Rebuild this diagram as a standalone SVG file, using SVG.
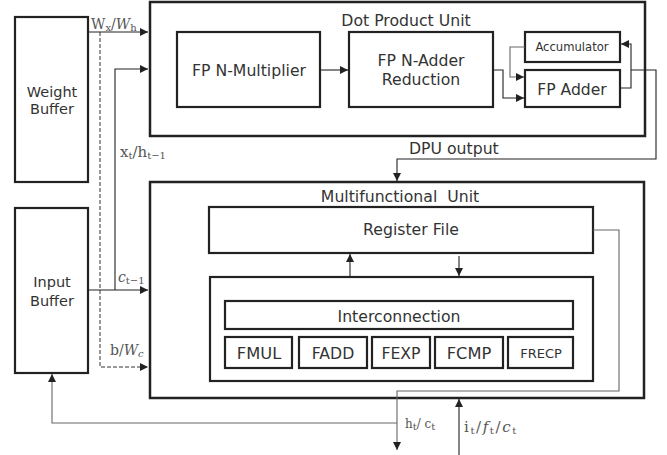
<svg xmlns="http://www.w3.org/2000/svg" width="667" height="455" viewBox="0 0 667 455">
<style>
.box{fill:#fff;stroke:#222;stroke-width:2.2}
.ob{fill:#fff;stroke:#222;stroke-width:2.5}
.t{font-family:"DejaVu Sans",sans-serif;fill:#333;text-anchor:middle;font-size:15.7px}
.ln{fill:none;stroke:#222;stroke-width:1.1}
.gl{fill:none;stroke:#666;stroke-width:1.1}
.ds{fill:none;stroke:#333;stroke-width:1;stroke-dasharray:4,2}
.m{font-family:"DejaVu Serif","Liberation Serif",serif;fill:#555;font-size:14px}
.s{font-size:10px}
</style>
<defs>
<marker id="a" viewBox="0 0 8 8" refX="8" refY="4" markerWidth="8" markerHeight="8" markerUnits="userSpaceOnUse" orient="auto"><path d="M0,0L8,4L0,8z" fill="#222"/></marker>
</defs>
<rect width="667" height="455" fill="#fff"/>

<g id="weight-buffer">
<rect class="box" x="15" y="17" width="73" height="165"/>
<text class="t" x="52" y="97" style="font-size:14.5px">Weight</text>
<text class="t" x="52" y="114" style="font-size:14.5px">Buffer</text>
</g>
<g id="input-buffer">
<rect class="box" x="15" y="208" width="73" height="165"/>
<text class="t" x="52" y="287" style="font-size:14.5px">Input</text>
<text class="t" x="52" y="306" style="font-size:14.5px">Buffer</text>
</g>
<g id="dot-product-unit">
<rect class="ob" x="150" y="2" width="495" height="134"/>
<text class="t" x="406" y="26">Dot Product Unit</text>
</g>
<g id="fp-n-multiplier">
<rect class="box" x="177" y="32" width="143" height="75"/>
<text class="t" x="249" y="76">FP N-Multiplier</text>
</g>
<g id="fp-n-adder-reduction">
<rect class="box" x="349" y="32" width="144" height="75"/>
<text class="t" x="421" y="66">FP N-Adder</text>
<text class="t" x="421" y="85">Reduction</text>
</g>
<g id="accumulator">
<rect class="box" x="525" y="32" width="95" height="30"/>
<text class="t" x="572" y="51" style="font-size:11.6px">Accumulator</text>
</g>
<g id="fp-adder">
<rect class="box" x="525" y="70" width="95" height="37"/>
<text class="t" x="572" y="95" style="font-size:15.6px">FP Adder</text>
</g>
<g id="multifunctional-unit">
<rect class="ob" x="150" y="182" width="494" height="216"/>
<text class="t" x="400" y="202" style="white-space:pre">Multifunctional  Unit</text>
</g>
<g id="register-file">
<rect class="box" x="209" y="207" width="384" height="46"/>
<text class="t" x="411" y="235">Register File</text>
</g>
<g id="function-block">
<rect class="box" x="210" y="277" width="383" height="104"/>
</g>
<g id="interconnection">
<rect class="box" x="225" y="301" width="348" height="28"/>
<text class="t" x="399" y="322">Interconnection</text>
</g>
<g id="fmul"><rect class="box" x="225" y="337" width="67" height="31"/><text class="t" x="259" y="359" style="font-size:16.3px">FMUL</text></g>
<g id="fadd"><rect class="box" x="299" y="337" width="68" height="31"/><text class="t" x="333" y="359">FADD</text></g>
<g id="fexp"><rect class="box" x="372" y="337" width="58" height="31"/><text class="t" x="401" y="359">FEXP</text></g>
<g id="fcmp"><rect class="box" x="435" y="337" width="68" height="31"/><text class="t" x="469" y="359" style="font-size:16.3px">FCMP</text></g>
<g id="frecp"><rect class="box" x="508" y="337" width="65" height="31"/><text class="t" x="541" y="358" style="font-size:13px">FRECP</text></g>

<g id="connectors">
<path class="ln" d="M88,32H148" marker-end="url(#a)"/>
<path class="ds" d="M100,32V367H148" marker-end="url(#a)"/>
<path class="ln" d="M115,290V69H148" marker-end="url(#a)"/>
<path class="ln" d="M88,290H148" marker-end="url(#a)"/>
<path class="ln" d="M320,70H348" marker-end="url(#a)"/>
<path class="ln" d="M493,70H503V98H524" marker-end="url(#a)"/>
<path class="gl" d="M525,47H510V77H524" marker-end="url(#a)"/>
<path class="ln" d="M620,88H631V44H621" marker-end="url(#a)"/>
<path class="ln" d="M631,70H656V159H397V181" marker-end="url(#a)"/>
<path class="ln" d="M350,277V254" marker-end="url(#a)"/>
<path class="ln" d="M459,256V276" marker-end="url(#a)"/>
<path class="gl" d="M593,230H619V391H397V450" marker-end="url(#a)"/>
<path class="gl" d="M397,423H52V374" marker-end="url(#a)"/>
<path class="ln" d="M459,455V399" marker-end="url(#a)"/>
</g>

<g id="labels">
<text class="m" x="91" y="29">W<tspan class="s" dy="2">x</tspan><tspan dy="-2">/</tspan><tspan font-style="italic">W</tspan><tspan class="s" dy="2">h</tspan></text>
<text class="m" x="120" y="157" style="font-size:15px">x<tspan class="s" dy="2">t</tspan><tspan dy="-2">/h</tspan><tspan class="s" dy="2">t−1</tspan></text>
<text class="m" x="118" y="282"><tspan font-style="italic">c</tspan><tspan class="s" dy="2">t−1</tspan></text>
<text class="m" x="110" y="355">b/<tspan font-style="italic">W</tspan><tspan class="s" dy="2" font-style="italic">c</tspan></text>
<text class="m" x="405" y="428" style="font-size:12px">h<tspan class="s" dy="2">t</tspan><tspan dy="-2">/ c</tspan><tspan class="s" dy="2">t</tspan></text>
<text class="m" x="464" y="432" style="font-size:15px;letter-spacing:1.6px">i<tspan class="s" dy="2">t</tspan><tspan dy="-2">/</tspan><tspan font-style="italic">f</tspan><tspan class="s" dy="2">t</tspan><tspan dy="-2">/</tspan><tspan font-style="italic">c</tspan><tspan class="s" dy="2">t</tspan></text>
<text class="t" x="409" y="154" style="text-anchor:start">DPU output</text>
</g>
</svg>
